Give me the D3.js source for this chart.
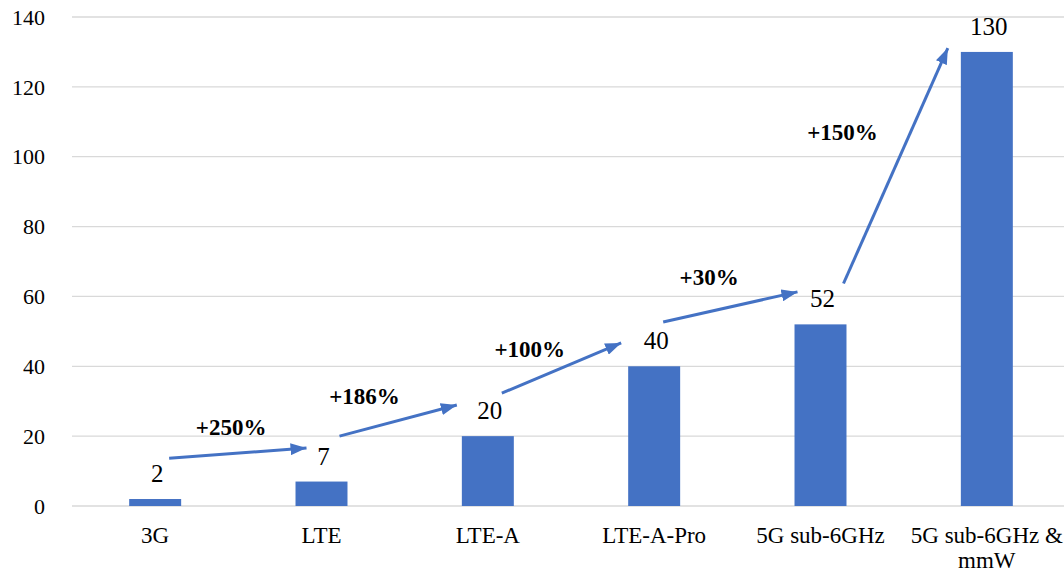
<!DOCTYPE html>
<html>
<head>
<meta charset="utf-8">
<script src="https://cdn.jsdelivr.net/npm/d3@7"></script>
<style>
  body { margin: 0; background: #fff; }
  svg text { font-family: "Liberation Serif", "Times New Roman", Times, serif; }
</style>
</head>
<body>
<div id="chart"></div>
<script>
// chart data
var categories = ["3G", "LTE", "LTE-A", "LTE-A-Pro", "5G sub-6GHz", "5G sub-6GHz & mmW"];
var values = [2, 7, 20, 40, 52, 130];
var yTicks = [0, 20, 40, 60, 80, 100, 120, 140];
var growth = ["+250%", "+186%", "+100%", "+30%", "+150%"];

// arrow annotations: offsets from band centers, heights in data units
var arrowFrom = [[14, 13.7], [18, 20.0], [14, 32.3], [9, 52.7], [23, 63.7]];
var arrowTo = [[-15, 16.6], [-31, 28.9], [-33, 46.7], [-23, 61.3], [-39, 131.1]];
var growthPos = [[76, 20.3], [43, 29.2], [42, 42.7], [55, 63.3], [22, 104.8]];

var width = 1064, height = 575;
var blue = "#4472c4";
var serif = "'Liberation Serif', 'Times New Roman', Times, serif";

var svg = d3.select("#chart").append("svg")
    .attr("width", width)
    .attr("height", height)
    .attr("font-family", serif);

var x = d3.scaleBand()
    .domain(categories)
    .range([72, 1070])
    .padding(0);

var y = d3.scaleLinear()
    .domain([0, 140])
    .range([506, 17]);

var barW = x.bandwidth() * 0.3125;
var cx = function(i) { return x(categories[i]) + x.bandwidth() / 2; };

// gridlines
svg.append("g")
   .selectAll("line")
   .data(yTicks)
   .enter()
   .append("line")
   .attr("x1", 72)
   .attr("x2", width)
   .attr("y1", d => y(d))
   .attr("y2", d => y(d))
   .attr("stroke", "#d9d9d9")
   .attr("stroke-width", 1.3);

// y tick labels
svg.append("g")
   .selectAll("text")
   .data(yTicks)
   .enter()
   .append("text")
   .attr("x", 45)
   .attr("y", d => y(d))
   .attr("dy", "0.35em")
   .attr("text-anchor", "end")
   .attr("font-family", serif)
   .attr("font-size", 22)
   .attr("fill", "#000")
   .text(d => d);

// bars
svg.selectAll(".bar")
   .data(values)
   .enter()
   .append("rect")
   .attr("class", "bar")
   .attr("x", (d, i) => cx(i) - barW / 2)
   .attr("y", d => y(d))
   .attr("width", barW)
   .attr("height", d => y(0) - y(d))
   .attr("fill", blue);

// value labels
svg.selectAll(".val")
   .data(values)
   .enter()
   .append("text")
   .attr("class", "val")
   .attr("x", (d, i) => cx(i) + 2)
   .attr("y", d => y(d) - 17)
   .attr("text-anchor", "middle")
   .attr("font-family", serif)
   .attr("font-size", 25)
   .text(d => d);

// category labels (wrap the long one)
var catG = svg.append("g");
categories.forEach(function(c, i) {
    var lines = c === "5G sub-6GHz & mmW" ? ["5G sub-6GHz &", "mmW"] : [c];
    var t = catG.append("text")
        .attr("x", cx(i))
        .attr("y", 543)
        .attr("text-anchor", "middle")
        .attr("font-family", serif)
        .attr("font-size", 23);
    lines.forEach(function(l, j) {
        t.append("tspan")
         .attr("x", cx(i))
         .attr("dy", j === 0 ? 0 : 25)
         .text(l);
    });
});

// arrowhead
svg.append("defs").append("marker")
   .attr("id", "head")
   .attr("markerUnits", "userSpaceOnUse")
   .attr("viewBox", "0 0 16 12")
   .attr("refX", 16)
   .attr("refY", 6)
   .attr("markerWidth", 16)
   .attr("markerHeight", 12)
   .attr("orient", "auto")
   .append("path")
   .attr("d", "M0,0 L16,6 L0,12 Z")
   .attr("fill", blue);

// growth arrows
svg.append("g")
   .selectAll("line")
   .data(growth)
   .enter()
   .append("line")
   .attr("x1", (d, i) => cx(i) + arrowFrom[i][0])
   .attr("y1", (d, i) => y(arrowFrom[i][1]))
   .attr("x2", (d, i) => cx(i + 1) + arrowTo[i][0])
   .attr("y2", (d, i) => y(arrowTo[i][1]))
   .attr("stroke", blue)
   .attr("stroke-width", 3)
   .attr("marker-end", "url(#head)");

// growth labels
svg.append("g")
   .selectAll("text")
   .data(growth)
   .enter()
   .append("text")
   .attr("x", (d, i) => cx(i) + growthPos[i][0])
   .attr("y", (d, i) => y(growthPos[i][1]))
   .attr("text-anchor", "middle")
   .attr("font-family", serif)
   .attr("font-size", 23)
   .attr("font-weight", "bold")
   .text(d => d);
</script>
</body>
</html>
